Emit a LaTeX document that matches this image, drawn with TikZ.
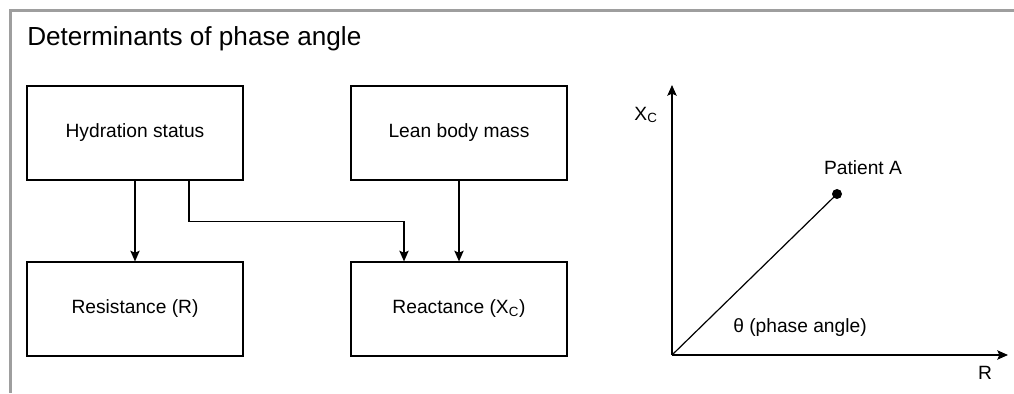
\documentclass[tikz,border=0pt]{standalone}
\usepackage{fontspec}
\setmainfont{Liberation Sans}
\usetikzlibrary{arrows.meta}

\begin{document}
\begin{tikzpicture}[x=0.75pt, y=0.75pt,
    box/.style={draw, line width=0.9pt, minimum width=162pt, minimum height=70.5pt,
      font=\fontsize{14.4}{17}\selectfont},
    lbl/.style={font=\fontsize{14.4}{17}\selectfont},
    arr/.style={line width=0.9pt, -{Stealth[length=8pt, width=7pt, inset=1.5pt]}}]
      \useasboundingbox (0, 0) rectangle (1014, 393);
      %% frame
      \draw [line width=2.6pt, color=black!38] (1014, 382.5) -- (10.5, 382.5) -- (10.5, 0);
      \node [anchor=base west, inner sep=0pt, font=\fontsize{19.6}{23}\selectfont] (title) at (27, 347) {Determinants of phase angle};
      %% boxes
      \node [box] (hyd) at (135, 260) {Hydration status};
      \node [box] (lbm) at (459, 260) {Lean body mass};
      \node [box] (res) at (135, 84) {Resistance (R)};
      \node [box] (rea) at (459, 84) {Reactance (X\textsubscript{C})};
      %% arrows
      \draw [arr] (hyd) -- (res);
      \draw [arr] ([xshift=40.5pt]hyd.south) -- ++(0, -41) -| ([xshift=-41.25pt]rea.north);
      \draw [arr] (lbm) -- (rea);
      %% graph
      \coordinate (O) at (672, 38);
      \coordinate (ytip) at (672, 308);
      \coordinate (xtip) at (1008, 38);
      \coordinate (pA) at (837, 199);
      \draw [arr] (O) -- (ytip);
      \draw [arr] (O) -- (xtip);
      \draw [line width=0.9pt] (O) -- (pA);
      \fill (pA) circle (3.75pt);
      \node [lbl] (xc) at (646, 278) {X\textsubscript{C}};
      \node [lbl] (r) at (985, 20) {R};
      \node [lbl] (pat) at (863, 225) {Patient A};
      \node [lbl] (theta) at (800, 65) {θ (phase angle)};
    \end{tikzpicture}
\end{document}
